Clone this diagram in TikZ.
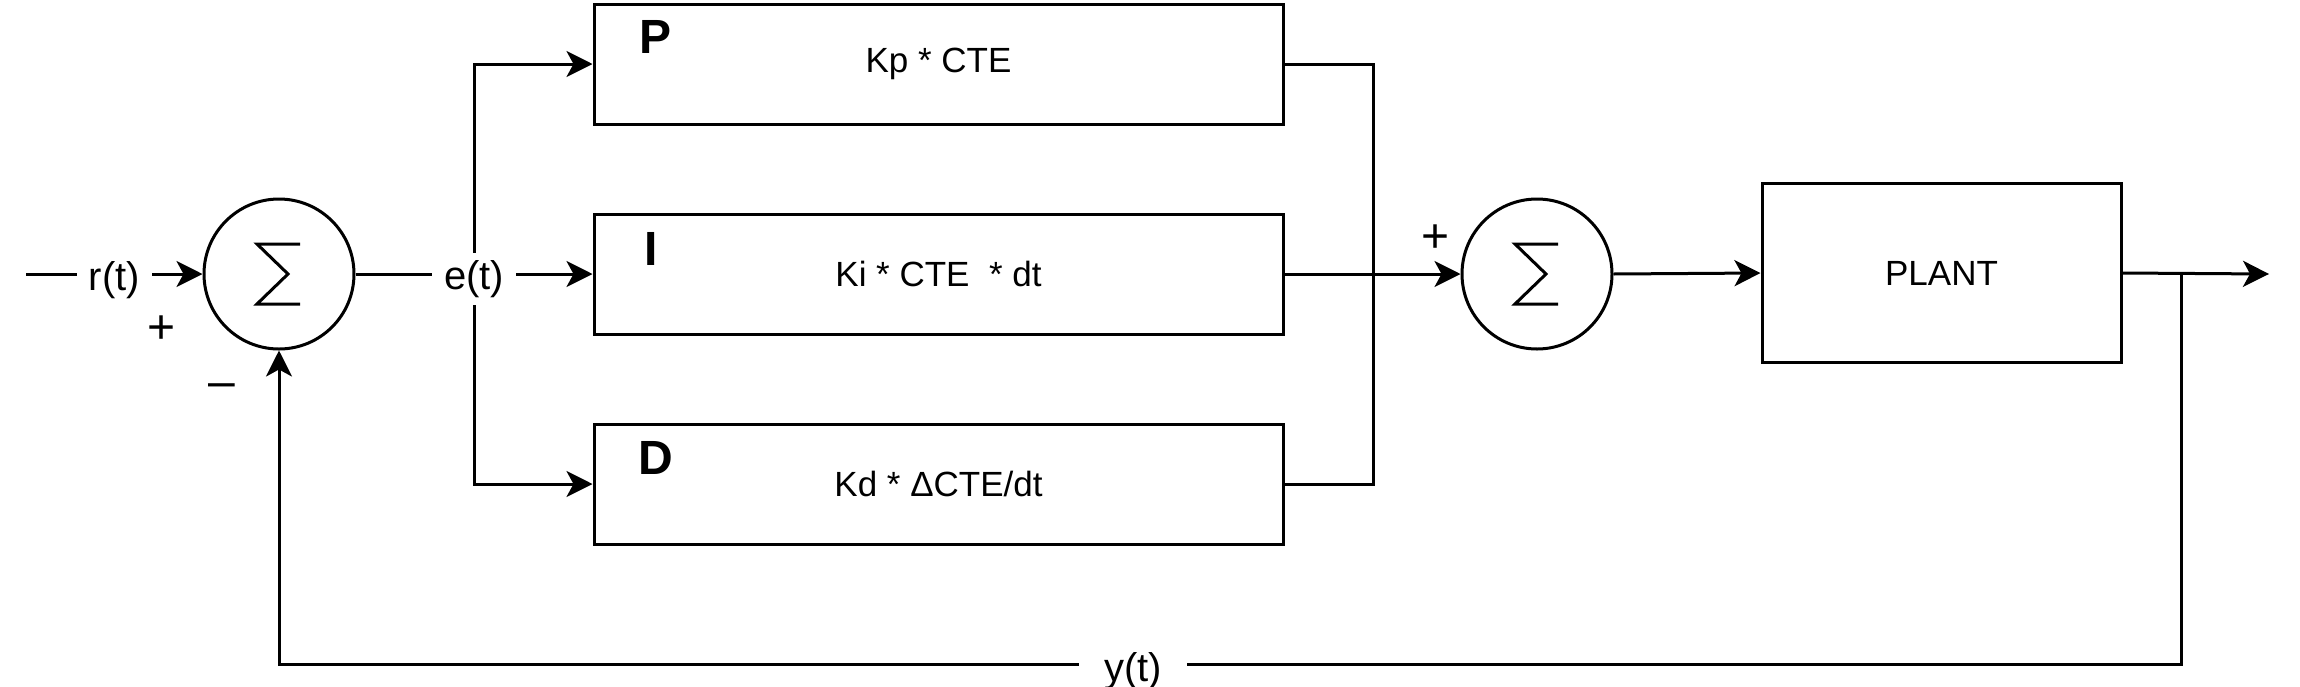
\documentclass[tikz,border=0pt]{standalone}
\usepackage{fontspec}
\setmainfont{Liberation Sans}
\usetikzlibrary{arrows.meta}
\newcommand{\fsz}{\fontsize{35}{42}\selectfont}
\newcommand{\fedge}{\fontsize{40}{48}\selectfont}
\newcommand{\fbig}{\fontsize{48}{56}\selectfont}
\begin{document}
\begin{tikzpicture}[x=1pt,y=-1pt,line width=3pt,
  arr/.style={-{Stealth[length=26pt,width=26pt,inset=7pt]}},
  blk/.style={draw,rectangle,minimum width=689pt,minimum height=120pt,inner sep=0pt,font=\fsz},
  sumnode/.style={draw,circle,minimum size=150pt,inner sep=0pt},
  lbl/.style={fill=white,inner xsep=12pt,inner ysep=7pt,font=\fedge},
  tag/.style={font=\fbig\bfseries,inner sep=0pt},
  sgn/.style={font=\fbig,inner sep=0pt}]
\useasboundingbox (0,0) rectangle (2300,686);
% nodes
\node[sumnode] (s1) at (279,274) {};
\node[sumnode] (s2) at (1537,274) {};
\node[blk] (P) at (938.5,64) {Kp * CTE};
\node[blk] (I) at (938.5,274) {Ki * CTE~ * dt};
\node[blk] (D) at (938.5,484) {Kd * ΔCTE/dt};
\node[draw,rectangle,minimum width=359pt,minimum height=179pt,inner sep=0pt,font=\fsz] (plant) at (1941.5,273) {PLANT};
% sigma symbols
\draw[line width=3pt,shift={(s1.center)}] (21,-30) -- (-22,-30) -- (9,0) -- (-22,30) -- (21,30);
\draw[line width=3pt,shift={(s2.center)}] (21,-30) -- (-22,-30) -- (9,0) -- (-22,30) -- (21,30);
% block tags
\node[tag] (tP) at (656,37) {P};
\node[tag] (tI) at (651,249) {I};
\node[tag] (tD) at (656,458) {D};
% signs
\node[sgn] (p1) at (162,330) {+};
\node[sgn] (m1) at (222,391) {–};
\node[sgn] (p2) at (1435,239) {+};
% coordinates
\coordinate (rin) at (26,274);
\coordinate (b) at (474,274);
\coordinate (j) at (1373,274);
\coordinate (yb) at (2181,274);
\coordinate (yc) at (2181,664);
\coordinate (yd) at (279,664);
\coordinate (out) at (2269,274);
% branches
\draw[arr] (b) |- (P.west);
\draw[arr] (b) |- (D.west);
\draw (P.east) -| (j);
\draw (D.east) -| (j);
% main path
\draw[arr] (rin) -- node[lbl,yshift=-6pt] (rl) {r(t)} (s1.west);
\draw[arr] (s1.east) -- node[lbl,yshift=-5pt] (el) {e(t)} (I.west);
\draw[arr] (I.east) -- (s2.west);
\draw[arr] (s2.east) -- (plant.west);
\draw[arr] (plant.east) -- (out);
\draw[arr] (yb) -- (yc) -- (yd) -- (s1.south);
\node[lbl,inner xsep=25pt] (yl) at (1133,671) {y(t)};
\end{tikzpicture}
\end{document}
